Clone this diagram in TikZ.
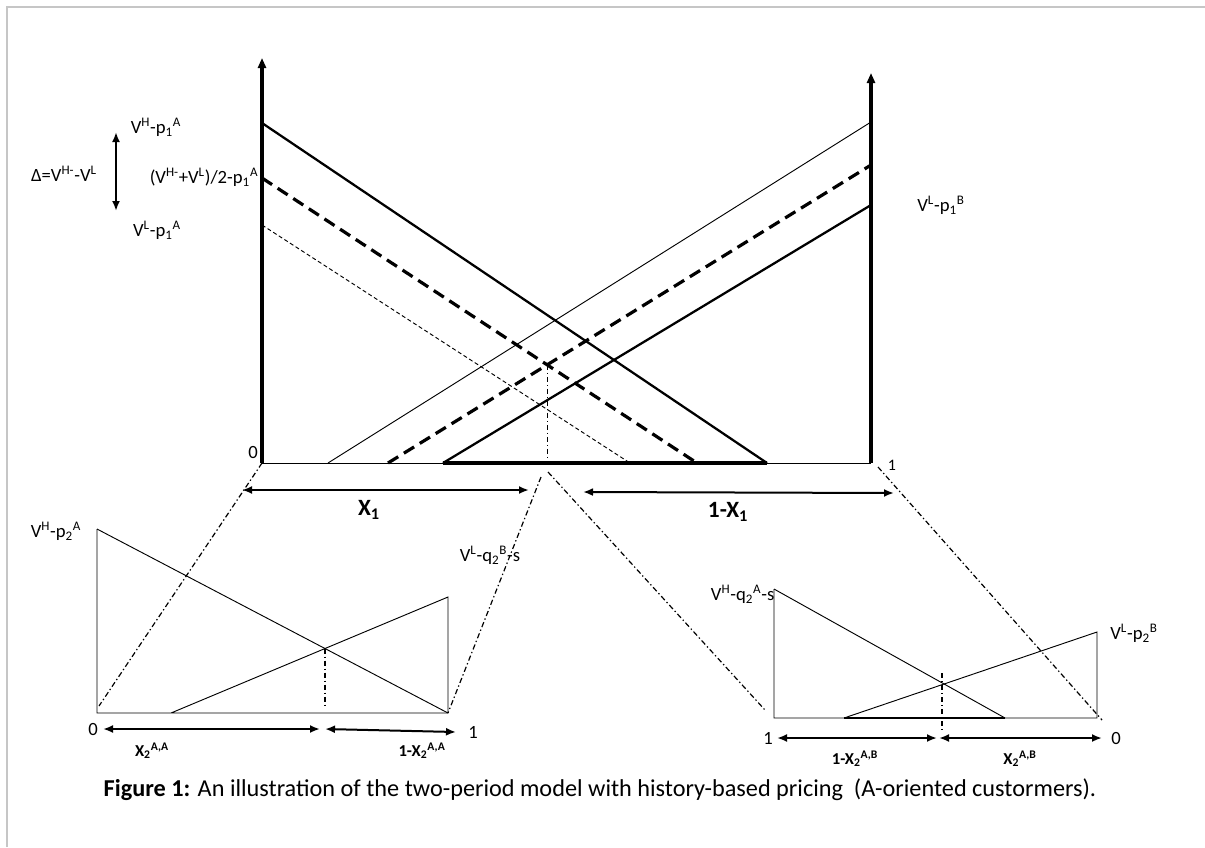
\documentclass[tikz,border=0pt]{standalone}
\usepackage{fontspec}
\setmainfont{Carlito}
\usetikzlibrary{arrows.meta,positioning,calc}
\newcommand{\hsup}[1]{\textsuperscript{#1}}
\newcommand{\hsub}[1]{\textsubscript{#1}}

\begin{document}
\begin{tikzpicture}[x=0.75pt,y=-0.75pt,
  vaxis/.style={line width=#1, -{Triangle[length=7.5pt,width=6pt]}},
  thickline/.style={line width=1.7pt},
  midline/.style={line width=2.4pt, dash pattern=on 9pt off 5pt},
  thinline/.style={line width=0.7pt},
  dotline/.style={line width=0.7pt, dash pattern=on 3pt off 2pt},
  zoomline/.style={line width=0.9pt, dash pattern=on 4pt off 2pt on 1pt off 2pt},
  span/.style={line width=1.5pt, {Latex[length=7.5pt,width=6pt]}-{Latex[length=7.5pt,width=6pt]}},
  lbl/.style={inner sep=1pt, font=\fontsize{14}{16}\selectfont},
  big/.style={inner sep=1pt, font=\fontsize{17.5}{20}\selectfont\bfseries},
  small/.style={inner sep=1pt, font=\fontsize{12.5}{14}\selectfont\bfseries}
]
  \useasboundingbox (0,0) rectangle (1205,847);
  \draw[gray!45, line width=0.8pt] (7,847) -- (7,7) -- (1205,7);

  % first period
  \coordinate (O) at (262,463);
  \coordinate (E) at (871,463);
  \coordinate (aH) at (262,123);  \coordinate (aH0) at (767,463);
  \coordinate (aM) at (262,178);  \coordinate (aM0) at (697,463);
  \coordinate (aL) at (262,225);  \coordinate (aL0) at (630,463);
  \coordinate (bH) at (871,122);  \coordinate (bH0) at (328,463);
  \coordinate (bM) at (871,165);  \coordinate (bM0) at (388,463);
  \coordinate (bL) at (871,205);  \coordinate (bL0) at (443,463);

  \draw[thinline] (O) -- (E);
  \draw[line width=2.6pt] (bL0) -- (aH0);
  \draw[thickline] (aH) -- (aH0);
  \draw[midline] (aM) -- (aM0);
  \draw[dotline] (aL) -- (aL0);
  \draw[thinline] (bH0) -- (bH);
  \draw[midline] (bM0) -- (bM);
  \draw[thickline] (bL0) -- (bL);
  \coordinate (x1) at (intersection of aM--aM0 and bM--bM0);
  \draw[zoomline] (x1) -- (x1 |- 0,460);
  \draw[vaxis=3pt] (O) -- (262,58);
  \draw[vaxis=2.3pt] (E) -- (871,73);

  \node[lbl] (zero) at (253,452) {0};
  \node[lbl, font=\fontsize{12}{14}\selectfont] (one) at (892,465) {1};
  \node[lbl] (vhA) at (156,127) {V\hsup{H}-p\hsub{1}\hsup{A}};
  \node[lbl] (avg) at (204,177) {(V\hsup{H-}+V\hsup{L})/2-p\hsub{1}\hsup{A}};
  \node[lbl] (vlA) at (157,230) {V\hsup{L}-p\hsub{1}\hsup{A}};
  \node[lbl] (delta) at (64,174) {Δ=V\hsup{H-}-V\hsup{L}};
  \node[lbl] (vlB) at (941,205) {V\hsup{L}-p\hsub{1}\hsup{B}};
  \coordinate (dTop) at (116,132);
  \coordinate (dBot) at (116,211);
  \draw[span] (dTop) -- (dBot);

  \coordinate (s1) at (242,490);  \coordinate (s2) at (529,490);
  \coordinate (s3) at (583,492);  \coordinate (s4) at (894,493);
  \draw[span] (s1) -- (s2);
  \draw[span] (s3) -- (s4);
  \node[big] (X1) at (369,510) {X\hsub{1}};
  \node[big] (X1c) at (728,512) {1-X\hsub{1}};

  % second period, A customers
  \coordinate (lA) at (97,529);   \coordinate (lO) at (97,713);
  \coordinate (lE) at (448,713);  \coordinate (lB) at (448,597);
  \coordinate (lB0) at (171,713);
  \draw[thinline] (lA) -- (lO) -- (lE) -- (lB) -- (lB0);
  \draw[thinline] (lA) -- (lE);
  \coordinate (x2) at (intersection of lA--lE and lB0--lB);
  \draw[zoomline] (x2) -- (x2 |- 0,708);
  \draw[zoomline] (O) -- (99,706);
  \draw[zoomline] (541,477) -- (lE);
  \node[lbl] (vhA2) at (56,531) {V\hsup{H}-p\hsub{2}\hsup{A}};
  \node[lbl] (vlB2) at (490,555) {V\hsup{L}-q\hsub{2}\hsup{B}-s};

  \coordinate (t1) at (103,729);  \coordinate (t2) at (320,729);
  \coordinate (t3) at (325,729);  \coordinate (t4) at (456,732);
  \draw[span] (t1) -- (t2);
  \draw[span] (t3) -- (t4);
  \node[lbl] (lzero) at (93,729) {0};
  \node[lbl] (lone) at (473,732) {1};
  \node[small] (xAA) at (152,751) {X\hsub{2}\hsup{A,A}};
  \node[small] (xAAc) at (422,751) {1-X\hsub{2}\hsup{A,A}};

  % second period, B customers
  \coordinate (rA) at (774,589);   \coordinate (rO) at (774,718);
  \coordinate (rE) at (1097,718);  \coordinate (rB) at (1097,632);
  \coordinate (rA0) at (1005,718); \coordinate (rB0) at (844,718);
  \draw[thinline] (rA) -- (rO) -- (rE) -- (rB) -- (rB0);
  \draw[thinline] (rA) -- (rA0);
  \draw[line width=1.4pt] (rB0) -- (rA0);
  \draw[zoomline] (942,673) -- (942,730);
  \draw[zoomline] (548,472) -- (765,710);
  \draw[zoomline] (878,467) -- (1102,720);
  \node[lbl, anchor=east] (vhA3) at (776,594) {V\hsup{H}-q\hsub{2}\hsup{A}-s};
  \node[lbl] (vlB3) at (1134,633) {V\hsup{L}-p\hsub{2}\hsup{B}};

  \coordinate (u1) at (777,738);  \coordinate (u2) at (937,738);
  \coordinate (u3) at (939,738);  \coordinate (u4) at (1102,738);
  \draw[span] (u1) -- (u2);
  \draw[span] (u3) -- (u4);
  \node[lbl] (rone) at (768,738) {1};
  \node[lbl] (rzero) at (1116,738) {0};
  \node[small] (xAB) at (1020,759) {X\hsub{2}\hsup{A,B}};
  \node[small] (xABc) at (855,759) {1-X\hsub{2}\hsup{A,B}};

  \node[inner sep=0pt, font=\fontsize{18.2}{21}\selectfont] (cap) at (600,790)
    {\textbf{Figure 1:} An illustration of the two-period model with history-based pricing\ \ (A-oriented custormers).};
\end{tikzpicture}
\end{document}
